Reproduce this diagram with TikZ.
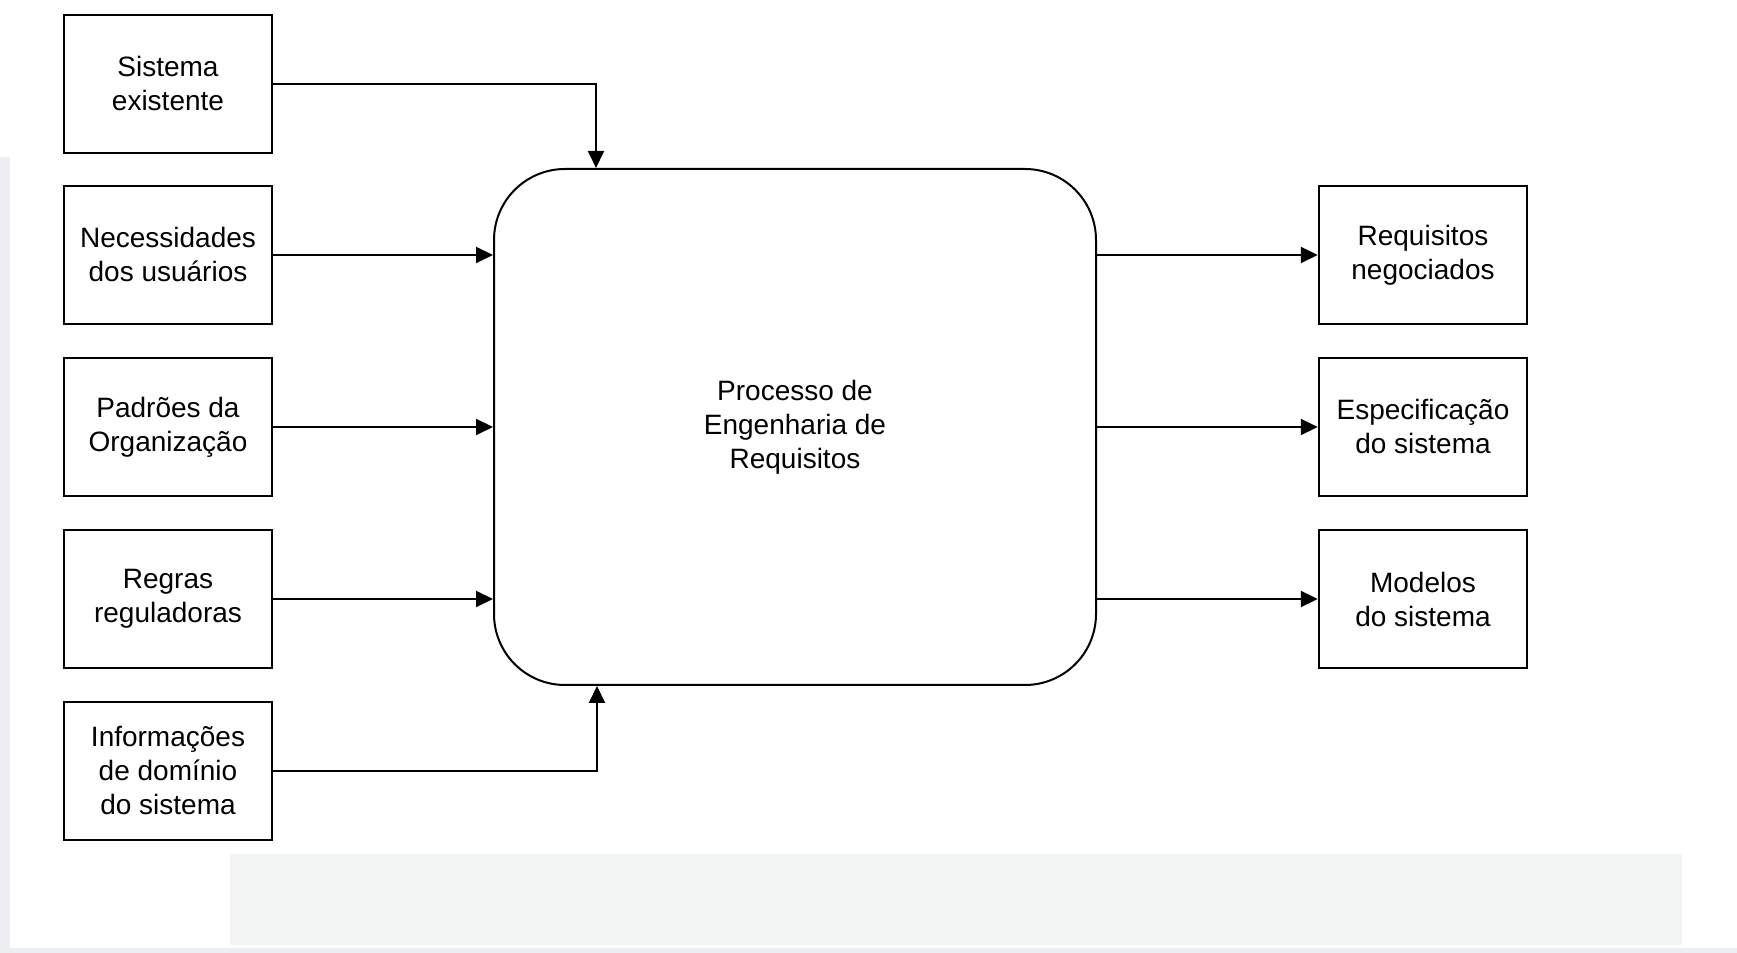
\documentclass[tikz,border=0pt]{standalone}
\usepackage{fontspec}
\setmainfont{Liberation Sans}
\usepackage{xcolor}
\usepackage{tikz}
\usetikzlibrary{arrows.meta}
\definecolor{panelgrey}{RGB}{243,244,244}
\definecolor{edgegrey}{RGB}{236,238,241}
\tikzset{
  src/.style  ={draw=black, line width=1.2pt, fill=white, align=center,
                font=\fontsize{14}{17}\selectfont, inner sep=0pt,
                minimum width=104pt, minimum height=69pt},
  proc/.style ={draw=black, line width=1pt, fill=white, rounded corners=35.5pt,
                align=center, font=\fontsize{14}{17}\selectfont,
                minimum width=301pt, minimum height=258pt},
  ar/.style   ={-{Triangle[length=8.5pt,width=8pt]}, draw=black, line width=1pt},
}
\begin{document}
\begin{tikzpicture}[x=0.5pt,y=0.5pt]
\useasboundingbox (0,0) rectangle (1737,953);
\fill[white] (0,0) rectangle (1737,953);
% page edges and lower panel
\fill[edgegrey] (0,0) rectangle (10,796);
\fill[edgegrey] (0,0) rectangle (1737,5);
\fill[panelgrey] (230,8) rectangle (1682,99);

% inputs
\node[src] (sis) at (168,869) {Sistema\\existente};
\node[src] (nec) at (168,698) {Necessidades\\dos usuários};
\node[src] (pad) at (168,526) {Padrões da\\Organização};
\node[src] (reg) at (168,354) {Regras\\reguladoras};
\node[src] (inf) at (168,182) {Informações\\de domínio\\do sistema};

% process
\node[proc] (re) at (795,526) {Processo de\\Engenharia de\\Requisitos};

% outputs
\node[src] (req) at (1423,698) {Requisitos\\negociados};
\node[src] (esp) at (1423,526) {Especificação\\do sistema};
\node[src] (mod) at (1423,354) {Modelos\\do sistema};

% connectors
\draw[ar] (sis.east) -| ([xshift=51.5pt]re.north west);
\draw[ar] (nec.east) -- (nec -| re.west);
\draw[ar] (pad.east) -- (pad -| re.west);
\draw[ar] (reg.east) -- (reg -| re.west);
\draw[ar] (inf.east) -| ([xshift=52pt]re.south west);
\draw[ar] (req -| re.east) -- (req.west);
\draw[ar] (esp -| re.east) -- (esp.west);
\draw[ar] (mod -| re.east) -- (mod.west);
\end{tikzpicture}
\end{document}
